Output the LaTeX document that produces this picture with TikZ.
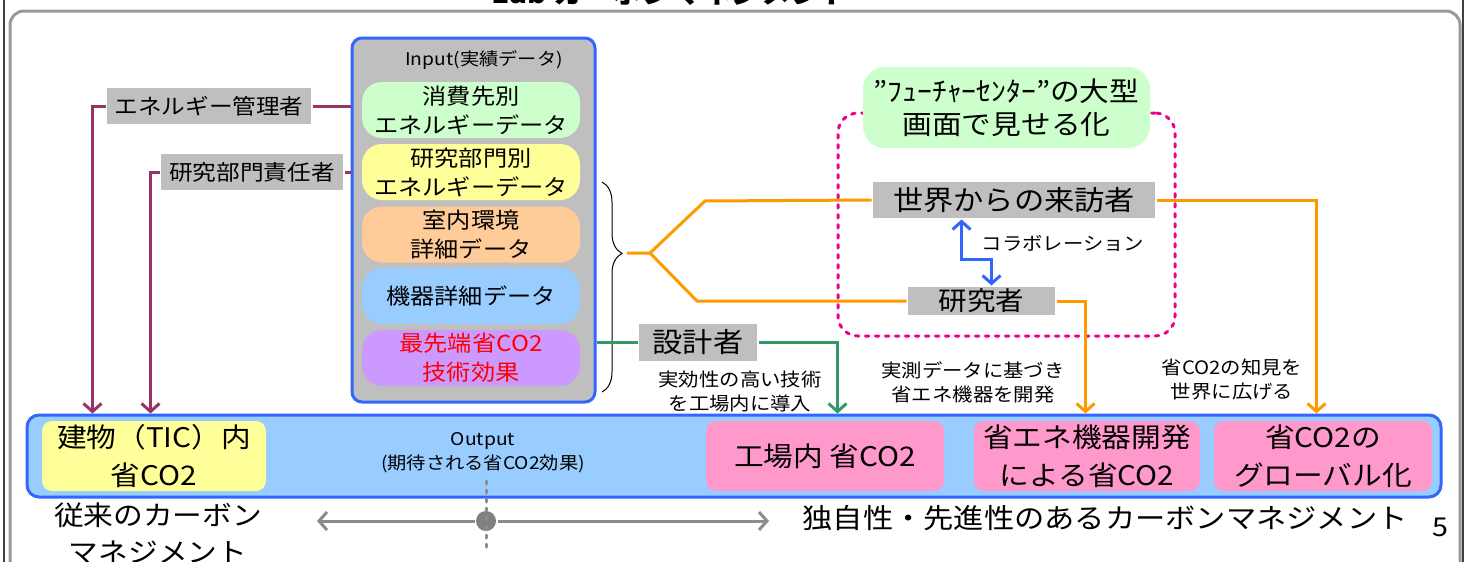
\documentclass[tikz,border=0pt]{standalone}
\usepackage{fontspec}
\setmainfont{Noto Sans CJK JP}[FakeStretch=1.1]
\usetikzlibrary{arrows.meta,decorations.pathreplacing,positioning}

\definecolor{frameblue}{HTML}{3366FF}
\definecolor{boxgray}{HTML}{BFBFBF}
\definecolor{mint}{HTML}{CCFFCC}
\definecolor{lemon}{HTML}{FFFF99}
\definecolor{peach}{HTML}{FFCC99}
\definecolor{sky}{HTML}{99CCFF}
\definecolor{lilac}{HTML}{CC99FF}
\definecolor{rose}{HTML}{FF99CC}
\definecolor{plum}{HTML}{993366}
\definecolor{amber}{HTML}{FF9900}
\definecolor{leaf}{HTML}{339966}

\begin{document}
\begin{tikzpicture}[x=1pt,y=-1pt,line width=3pt,
                    >={Straight Barb[length=8pt,width=18pt]}]
  \tikzstyle{tag}=[fill=boxgray,inner sep=0pt,text=black]
  \tikzstyle{pill}=[rounded corners=20pt,minimum width=218pt,minimum height=56pt,
                    inner sep=0pt,align=center,font=\fontsize{22}{29}\selectfont]
  \tikzstyle{outcome}=[fill=rose,rounded corners=10pt,minimum height=70pt,
                    inner sep=0pt,align=center,font=\fontsize{27}{38}\selectfont]
  \tikzstyle{note}=[align=center,font=\fontsize{18.5}{24}\selectfont]

  \useasboundingbox (0,0) rectangle (1467,562);

  % slide frame
  \draw[black!75,line width=2pt] (4,0) -- (4,562);
  \draw[black!75,line width=2pt] (1463,0) -- (1463,562);
  \draw[gray!80,rounded corners=14pt] (10,600) -- (10,11) -- (1460,11) -- (1460,600);
  \node[font=\bfseries\fontsize{27}{27}\selectfont,anchor=base] (title) at (671,4) {Lab カーボンマネジメント};

  % input side
  \node[draw=frameblue,fill=boxgray,rounded corners=10pt,minimum width=243pt,minimum height=364pt] (inbox) at (473.5,220) {};
  \node[note,font=\fontsize{17.5}{20}\selectfont] (inlabel) at (484,60) {Input(実績データ)};
  \node[pill,fill=mint]  (use)   at (471,110)   {消費先別\\エネルギーデータ};
  \node[pill,fill=lemon] (dept)  at (471,172)   {研究部門別\\エネルギーデータ};
  \node[pill,fill=peach] (room)  at (471,234.5) {室内環境\\詳細データ};
  \node[pill,fill=sky]   (equip) at (471,296)   {機器詳細データ};
  \node[pill,fill=lilac,text=red] (tech) at (471,358) {最先端省CO2\\技術効果};

  % output side
  \node[draw=frameblue,fill=sky,rounded corners=12pt,minimum width=1414pt,minimum height=82pt] (outbox) at (734,456) {};
  \node[outcome,fill=lemon,minimum width=224pt] (bldg)    at (154,456)  {建物（TIC）内\\省CO2};
  \node[outcome,minimum width=238pt]            (factory) at (825,456)  {工場内 省CO2};
  \node[outcome,minimum width=226pt]            (device)  at (1087,456) {省エネ機器開発\\による省CO2};
  \node[outcome,minimum width=218pt]            (global)  at (1323,456) {省CO2の\\グローバル化};
  \node[align=center,font=\fontsize{17.5}{24}\selectfont] (outlabel) at (483,453) {Output\\(期待される省CO2効果)};

  % people
  \node[tag,minimum width=204pt,minimum height=36pt,font=\fontsize{21.5}{26}\selectfont] (mgr)  at (209,106) {エネルギー管理者};
  \node[tag,minimum width=182pt,minimum height=36pt,font=\fontsize{21.5}{26}\selectfont] (head) at (252,172) {研究部門責任者};
  \node[draw=magenta,dash pattern=on 3.5pt off 6.5pt,line cap=round,rounded corners=20pt,
        minimum width=337pt,minimum height=223pt] (zone) at (1006.5,224.5) {};
  \node[fill=mint,rounded corners=22pt,minimum width=287pt,minimum height=81pt,inner sep=0pt,
        align=center,font=\fontsize{27}{33}\selectfont] (future) at (1006.5,107.5) {”ﾌｭｰﾁｬｰｾﾝﾀｰ”の大型\\画面で見せる化};
  \node[tag,minimum width=282pt,minimum height=36pt,font=\fontsize{27.5}{30}\selectfont] (visitor)    at (1014,200)  {世界からの来訪者};
  \node[tag,minimum width=147pt,minimum height=28pt,font=\fontsize{26}{28}\selectfont] (researcher) at (981.5,301) {研究者};
  \node[tag,minimum width=118pt,minimum height=37pt,font=\fontsize{27.5}{30}\selectfont] (designer)   at (698,342)   {設計者};

  % notes
  \node[note,anchor=west] (collab) at (977,243) {コラボレーション};
  \node[note] (install) at (740,391)  {実効性の高い技術\\を工場内に導入};
  \node[note] (develop) at (973,382)  {実測データに基づき\\省エネ機器を開発};
  \node[note] (spread)  at (1232,380) {省CO2の知見を\\世界に広げる};

  % brace and connectors
  \coordinate (bracetop) at (602,182);
  \coordinate (bracebot) at (602,392);
  \draw[line width=1pt,decorate,decoration={brace,amplitude=20pt,aspect=0.34}] (bracetop) -- (bracebot);
  \coordinate (bracetip) at (627,253);
  \coordinate (fork) at (650,253);

  \draw[plum] (mgr.east) -- (mgr.east -| inbox.west);
  \draw[plum,->] (mgr.west) -| ([xshift=67pt]outbox.north west);
  \draw[plum] (head.east) -- (head.east -| inbox.west);
  \draw[plum,->] (head.west) -| ([xshift=125pt]outbox.north west);

  \draw[amber] (bracetip) -- (fork) -- ++(55,-52) -- (visitor.west);
  \draw[amber] (fork) -- ++(47,48) -- (researcher.west);
  \draw[amber,->] (visitor.east) -| ([xshift=1291pt]outbox.north west);
  \draw[amber,->] (researcher.east) -| ([xshift=1060pt]outbox.north west);

  \draw[leaf] (designer.west) -- (designer.west -| inbox.east);
  \draw[leaf,->] (designer.east) -| ([xshift=812pt]outbox.north west);

  \draw[frameblue,<->] ([xshift=90pt]visitor.south west) -- ++(0,40) -| ([xshift=85pt]researcher.north west);

  % bottom axis
  \node[align=center,font=\fontsize{27}{37}\selectfont] (legacy) at (158,533) {従来のカーボン\\マネジメント};
  \node[font=\fontsize{27.5}{30}\selectfont] (unique) at (1105,518) {独自性・先進性のあるカーボンマネジメント};
  \node[font=\fontsize{26}{28}\selectfont] (page) at (1440,527) {5};
  \coordinate (axisleft) at (317,521);
  \coordinate (axisright) at (769,521);
  \coordinate (divtop) at (486,481);
  \coordinate (divbot) at (486,548);
  \node[circle,fill=gray,inner sep=0pt,minimum size=20pt] (pivot) at (486,521) {};
  \draw[gray!90,->] (pivot) -- (axisleft);
  \draw[gray!90,->] (pivot) -- (axisright);
  \draw[gray!90,dash pattern=on 3pt off 6pt,line cap=round] (divtop) -- (divbot);

\end{tikzpicture}
\end{document}
